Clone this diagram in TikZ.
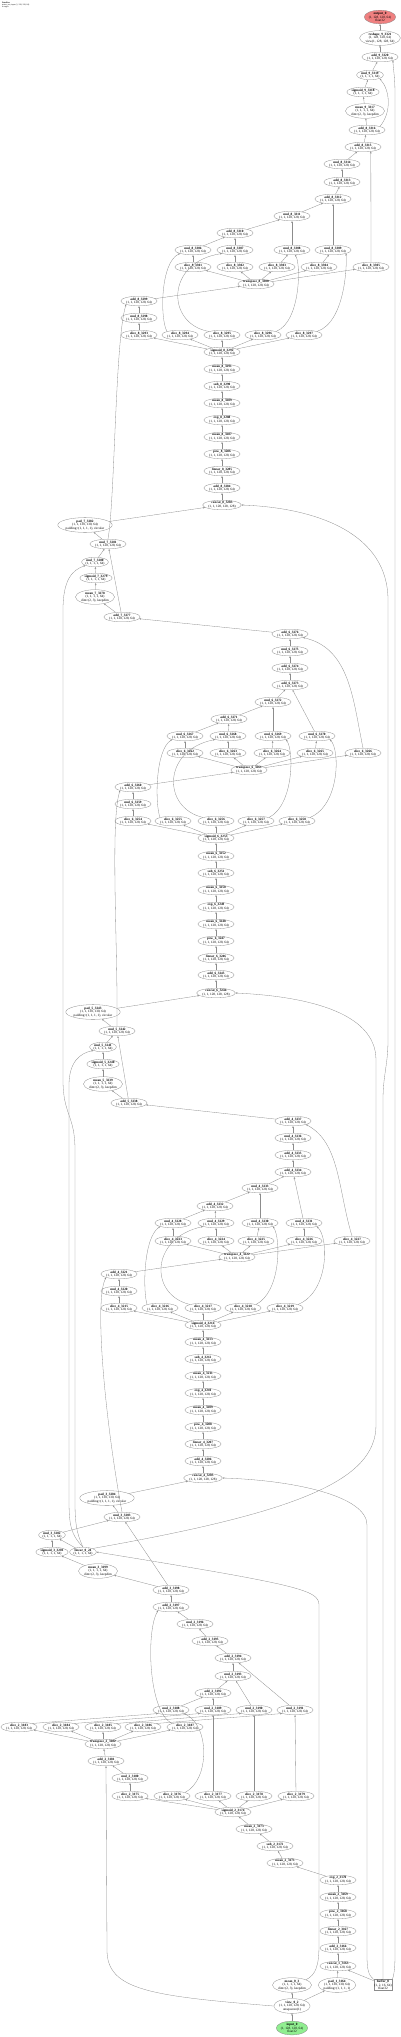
\documentclass[tikz,border=0pt]{standalone}
\usepackage{fontspec}
\setmainfont{Liberation Serif}
\usetikzlibrary{shapes.geometric,arrows.meta}
\definecolor{outfill}{RGB}{240,128,128}
\definecolor{infill}{RGB}{144,238,144}
\tikzset{
  op/.style={ellipse,draw=black!45,line width=0.3pt,inner xsep=0pt,inner ysep=0.1pt,
    align=center,font=\fontsize{3.35}{3.6}\selectfont},
  outop/.style={op,fill=outfill},
  inop/.style={op,fill=infill},
  bufbox/.style={rectangle,draw=black!45,line width=0.3pt,inner sep=0.6pt,
    align=center,font=\fontsize{3.35}{3.6}\selectfont},
  edge/.style={draw=black!45,line width=0.3pt,-{Stealth[length=2pt,width=1.6pt]}}
}
\begin{document}
\begin{tikzpicture}[x=1pt,y=-1pt]
\useasboundingbox (0,0) rectangle (400,2037);
\node[anchor=north west,align=left,inner sep=0pt,font=\fontsize{2}{2.2}\selectfont] (title) at (2,1.5) {\textbf{Dataflow}\\mixer\_net, input (1, 128, 128, 64)\\4 stages};

\node[outop] (a1) at (380,17) {\textbf{output\_0}\\(1, 128, 128, 64)\\float32};
\node[op] (a2) at (380,38) {\textbf{reshape\_9\_3321}\\(1, 128, 128, 64)\\view(1, 128, 128, 64)};
\node[op] (a3) at (380,57) {\textbf{add\_9\_3320}\\(1, 1, 128, 128, 64)};
\node[op] (a4) at (370,75) {\textbf{mul\_9\_3319}\\(1, 1, 1, 1, 64)};
\node[op] (a5) at (363,92) {\textbf{sigmoid\_9\_3318}\\(1, 1, 1, 1, 64)};
\node[op] (a6) at (365,111) {\textbf{mean\_9\_3317}\\(1, 1, 1, 1, 64)\\dim=(2, 3), keepdim};
\node[op] (a7) at (367,130) {\textbf{add\_8\_3316}\\(1, 1, 128, 128, 64)};
\node[op] (a8) at (363,147) {\textbf{add\_8\_3315}\\(1, 1, 128, 128, 64)};
\node[op] (a9) at (342,164) {\textbf{mul\_8\_3314}\\(1, 1, 128, 128, 64)};

\node[op] (b10) at (342,182) {\textbf{add\_8\_3313}\\(1, 1, 128, 128, 64)};
\node[op] (b11) at (333,199) {\textbf{add\_8\_3312}\\(1, 1, 128, 128, 64)};
\node[op] (b12) at (292,216) {\textbf{mul\_8\_3311}\\(1, 1, 128, 128, 64)};
\node[op] (b13) at (235,233) {\textbf{add\_8\_3310}\\(1, 1, 128, 128, 64)};
\node[op] (b14) at (193,250) {\textbf{mul\_8\_3306}\\(1, 1, 128, 128, 64)};
\node[op] (b15) at (235,250) {\textbf{mul\_8\_3307}\\(1, 1, 128, 128, 64)};
\node[op] (b16) at (292,250) {\textbf{mul\_8\_3308}\\(1, 1, 128, 128, 64)};
\node[op] (b17) at (333,250) {\textbf{mul\_8\_3309}\\(1, 1, 128, 128, 64)};
\node[op] (b18) at (193,267) {\textbf{slice\_8\_3301}\\(1, 1, 128, 128, 64)};
\node[op] (b19) at (235,267) {\textbf{slice\_8\_3302}\\(1, 1, 128, 128, 64)};
\node[op] (b20) at (277,267) {\textbf{slice\_8\_3303}\\(1, 1, 128, 128, 64)};
\node[op] (b21) at (319,267) {\textbf{slice\_8\_3304}\\(1, 1, 128, 128, 64)};
\node[op] (b22) at (371,267) {\textbf{slice\_8\_3305}\\(1, 1, 128, 128, 64)};
\node[op] (b23) at (256,284) {\textbf{transpose\_8\_3300}\\(1, 1, 128, 128, 64)};
\node[op] (b24) at (139,301) {\textbf{add\_8\_3299}\\(1, 1, 128, 128, 64)};
\node[op] (b25) at (139,318) {\textbf{mul\_8\_3298}\\(1, 1, 128, 128, 64)};
\node[op] (b26) at (139,335) {\textbf{slice\_8\_3293}\\(1, 1, 128, 128, 64)};
\node[op] (b27) at (180,335) {\textbf{slice\_8\_3294}\\(1, 1, 128, 128, 64)};
\node[op] (b28) at (222,335) {\textbf{slice\_8\_3295}\\(1, 1, 128, 128, 64)};
\node[op] (b29) at (263,335) {\textbf{slice\_8\_3296}\\(1, 1, 128, 128, 64)};
\node[op] (b30) at (304,335) {\textbf{slice\_8\_3297}\\(1, 1, 128, 128, 64)};
\node[op] (b31) at (222,352) {\textbf{sigmoid\_8\_3292}\\(1, 1, 128, 128, 64)};
\node[op] (b32) at (222,369) {\textbf{mean\_8\_3291}\\(1, 1, 128, 128, 64)};
\node[op] (b33) at (222,386) {\textbf{sub\_8\_3290}\\(1, 1, 128, 128, 64)};
\node[op] (b34) at (222,403) {\textbf{mean\_8\_3289}\\(1, 1, 128, 128, 64)};
\node[op] (b35) at (222,420) {\textbf{exp\_8\_3288}\\(1, 1, 128, 128, 64)};
\node[op] (b36) at (222,437) {\textbf{mean\_8\_3287}\\(1, 1, 128, 128, 64)};
\node[op] (b37) at (222,454) {\textbf{pow\_8\_3286}\\(1, 1, 128, 128, 64)};
\node[op] (b38) at (222,471) {\textbf{linear\_8\_3285}\\(1, 1, 128, 128, 64)};
\node[op] (b39) at (222,488) {\textbf{add\_8\_3284}\\(1, 1, 128, 128, 64)};
\node[op] (b40) at (222,505) {\textbf{concat\_8\_3283}\\(1, 1, 128, 128, 128)};
\node[op] (b41) at (85,525) {\textbf{pad\_7\_3282}\\(1, 1, 130, 130, 64)\\padding=(1, 1, 1, 1), circular};
\node[op] (b42) at (108,544) {\textbf{mul\_7\_3281}\\(1, 1, 128, 128, 64)};
\node[op] (b43) at (95,562) {\textbf{mul\_7\_3280}\\(1, 1, 1, 1, 64)};
\node[op] (b44) at (96,578) {\textbf{sigmoid\_7\_3279}\\(1, 1, 1, 1, 64)};
\node[op] (b45) at (95,597) {\textbf{mean\_7\_3278}\\(1, 1, 1, 1, 64)\\dim=(2, 3), keepdim};
\node[op] (b46) at (122,617) {\textbf{add\_7\_3277}\\(1, 1, 128, 128, 64)};

\node[op] (c1) at (290,634) {\textbf{add\_6\_3276}\\(1, 1, 128, 128, 64)};
\node[op] (c2) at (290,651) {\textbf{mul\_6\_3275}\\(1, 1, 128, 128, 64)};
\node[op] (c3) at (290,668) {\textbf{add\_6\_3274}\\(1, 1, 128, 128, 64)};
\node[op] (c4) at (290,685) {\textbf{add\_6\_3273}\\(1, 1, 128, 128, 64)};
\node[op] (c5) at (273,702) {\textbf{mul\_6\_3272}\\(1, 1, 128, 128, 64)};
\node[op] (c6) at (229,719) {\textbf{add\_6\_3271}\\(1, 1, 128, 128, 64)};
\node[op] (c7) at (185,736) {\textbf{mul\_6\_3267}\\(1, 1, 128, 128, 64)};
\node[op] (c8) at (228,736) {\textbf{mul\_6\_3268}\\(1, 1, 128, 128, 64)};
\node[op] (c9) at (273,736) {\textbf{mul\_6\_3269}\\(1, 1, 128, 128, 64)};
\node[op] (c10) at (317,736) {\textbf{mul\_6\_3270}\\(1, 1, 128, 128, 64)};
\node[op] (c11) at (185,753) {\textbf{slice\_6\_3262}\\(1, 1, 128, 128, 64)};
\node[op] (c12) at (228,753) {\textbf{slice\_6\_3263}\\(1, 1, 128, 128, 64)};
\node[op] (c13) at (272,753) {\textbf{slice\_6\_3264}\\(1, 1, 128, 128, 64)};
\node[op] (c14) at (315,753) {\textbf{slice\_6\_3265}\\(1, 1, 128, 128, 64)};
\node[op] (c15) at (363,753) {\textbf{slice\_6\_3266}\\(1, 1, 128, 128, 64)};
\node[op] (c16) at (249,770) {\textbf{transpose\_6\_3261}\\(1, 1, 128, 128, 64)};
\node[op] (c17) at (133,787) {\textbf{add\_6\_3260}\\(1, 1, 128, 128, 64)};
\node[op] (c18) at (133,804) {\textbf{mul\_6\_3259}\\(1, 1, 128, 128, 64)};
\node[op] (c19) at (133,821) {\textbf{slice\_6\_3254}\\(1, 1, 128, 128, 64)};
\node[op] (c20) at (173,821) {\textbf{slice\_6\_3255}\\(1, 1, 128, 128, 64)};
\node[op] (c21) at (216,821) {\textbf{slice\_6\_3256}\\(1, 1, 128, 128, 64)};
\node[op] (c22) at (256,821) {\textbf{slice\_6\_3257}\\(1, 1, 128, 128, 64)};
\node[op] (c23) at (297,821) {\textbf{slice\_6\_3258}\\(1, 1, 128, 128, 64)};
\node[op] (c24) at (216,838) {\textbf{sigmoid\_6\_3253}\\(1, 1, 128, 128, 64)};
\node[op] (c25) at (216,856) {\textbf{mean\_6\_3252}\\(1, 1, 128, 128, 64)};
\node[op] (c26) at (216,873) {\textbf{sub\_6\_3251}\\(1, 1, 128, 128, 64)};
\node[op] (c27) at (216,890) {\textbf{mean\_6\_3250}\\(1, 1, 128, 128, 64)};
\node[op] (c28) at (216,907) {\textbf{exp\_6\_3249}\\(1, 1, 128, 128, 64)};
\node[op] (c29) at (216,924) {\textbf{mean\_6\_3248}\\(1, 1, 128, 128, 64)};
\node[op] (c30) at (216,941) {\textbf{pow\_6\_3247}\\(1, 1, 128, 128, 64)};
\node[op] (c31) at (216,958) {\textbf{linear\_6\_3246}\\(1, 1, 128, 128, 64)};
\node[op] (c32) at (216,975) {\textbf{add\_6\_3245}\\(1, 1, 128, 128, 64)};
\node[op] (c33) at (216,993) {\textbf{concat\_6\_3244}\\(1, 1, 128, 128, 128)};
\node[op] (c34) at (93,1012) {\textbf{pad\_5\_3243}\\(1, 1, 130, 130, 64)\\padding=(1, 1, 1, 1), circular};
\node[op] (c35) at (117,1031) {\textbf{mul\_5\_3242}\\(1, 1, 128, 128, 64)};
\node[op] (c36) at (103,1047) {\textbf{mul\_5\_3241}\\(1, 1, 1, 1, 64)};
\node[op] (c37) at (103,1064) {\textbf{sigmoid\_5\_3240}\\(1, 1, 1, 1, 64)};
\node[op] (c38) at (103,1084) {\textbf{mean\_5\_3239}\\(1, 1, 1, 1, 64)\\dim=(2, 3), keepdim};
\node[op] (c39) at (129,1103) {\textbf{add\_5\_3238}\\(1, 1, 128, 128, 64)};

\node[op] (d1) at (293,1121) {\textbf{add\_4\_3237}\\(1, 1, 128, 128, 64)};
\node[op] (d2) at (293,1138) {\textbf{mul\_4\_3236}\\(1, 1, 128, 128, 64)};
\node[op] (d3) at (293,1155) {\textbf{add\_4\_3235}\\(1, 1, 128, 128, 64)};
\node[op] (d4) at (293,1172) {\textbf{add\_4\_3234}\\(1, 1, 128, 128, 64)};
\node[op] (d5) at (260,1188) {\textbf{mul\_4\_3233}\\(1, 1, 128, 128, 64)};
\node[op] (d6) at (215,1206) {\textbf{add\_4\_3232}\\(1, 1, 128, 128, 64)};
\node[op] (d7) at (173,1223) {\textbf{mul\_4\_3228}\\(1, 1, 128, 128, 64)};
\node[op] (d8) at (216,1223) {\textbf{mul\_4\_3229}\\(1, 1, 128, 128, 64)};
\node[op] (d9) at (260,1223) {\textbf{mul\_4\_3230}\\(1, 1, 128, 128, 64)};
\node[op] (d10) at (304,1223) {\textbf{mul\_4\_3231}\\(1, 1, 128, 128, 64)};
\node[op] (d11) at (173,1241) {\textbf{slice\_4\_3223}\\(1, 1, 128, 128, 64)};
\node[op] (d12) at (216,1241) {\textbf{slice\_4\_3224}\\(1, 1, 128, 128, 64)};
\node[op] (d13) at (256,1241) {\textbf{slice\_4\_3225}\\(1, 1, 128, 128, 64)};
\node[op] (d14) at (304,1241) {\textbf{slice\_4\_3226}\\(1, 1, 128, 128, 64)};
\node[op] (d15) at (352,1241) {\textbf{slice\_4\_3227}\\(1, 1, 128, 128, 64)};
\node[op] (d16) at (237,1257) {\textbf{transpose\_4\_3222}\\(1, 1, 128, 128, 64)};
\node[op] (d17) at (119,1274) {\textbf{add\_4\_3221}\\(1, 1, 128, 128, 64)};
\node[op] (d18) at (119,1291) {\textbf{mul\_4\_3220}\\(1, 1, 128, 128, 64)};
\node[op] (d19) at (119,1308) {\textbf{slice\_4\_3215}\\(1, 1, 128, 128, 64)};
\node[op] (d20) at (160,1308) {\textbf{slice\_4\_3216}\\(1, 1, 128, 128, 64)};
\node[op] (d21) at (203,1308) {\textbf{slice\_4\_3217}\\(1, 1, 128, 128, 64)};
\node[op] (d22) at (243,1308) {\textbf{slice\_4\_3218}\\(1, 1, 128, 128, 64)};
\node[op] (d23) at (285,1308) {\textbf{slice\_4\_3219}\\(1, 1, 128, 128, 64)};
\node[op] (d24) at (203,1325) {\textbf{sigmoid\_4\_3214}\\(1, 1, 128, 128, 64)};
\node[op] (d25) at (203,1342) {\textbf{mean\_4\_3213}\\(1, 1, 128, 128, 64)};
\node[op] (d26) at (203,1359) {\textbf{sub\_4\_3212}\\(1, 1, 128, 128, 64)};
\node[op] (d27) at (203,1376) {\textbf{mean\_4\_3211}\\(1, 1, 128, 128, 64)};
\node[op] (d28) at (203,1393) {\textbf{exp\_4\_3210}\\(1, 1, 128, 128, 64)};
\node[op] (d29) at (203,1410) {\textbf{mean\_4\_3209}\\(1, 1, 128, 128, 64)};
\node[op] (d30) at (203,1427) {\textbf{pow\_4\_3208}\\(1, 1, 128, 128, 64)};
\node[op] (d31) at (203,1444) {\textbf{linear\_4\_3207}\\(1, 1, 128, 128, 64)};
\node[op] (d32) at (203,1461) {\textbf{add\_4\_3206}\\(1, 1, 128, 128, 64)};
\node[op] (d33) at (203,1478) {\textbf{concat\_4\_3205}\\(1, 1, 128, 128, 128)};
\node[op] (d34) at (107,1498) {\textbf{pad\_3\_3204}\\(1, 1, 130, 130, 64)\\padding=(1, 1, 1, 1), circular};
\node[op] (d35) at (122,1517) {\textbf{mul\_3\_3203}\\(1, 1, 128, 128, 64)};
\node[op] (d36) at (52,1535) {\textbf{mul\_3\_3202}\\(1, 1, 1, 1, 64)};
\node[op] (d37) at (52,1552) {\textbf{sigmoid\_3\_3201}\\(1, 1, 1, 1, 64)};
\node[op] (d38) at (83,1552) {\textbf{linear\_0\_24}\\(1, 1, 1, 1, 64)};
\node[op] (d39) at (98,1571) {\textbf{mean\_3\_3199}\\(1, 1, 1, 1, 64)\\dim=(2, 3), keepdim};
\node[op] (d40) at (171,1590) {\textbf{add\_3\_3198}\\(1, 1, 128, 128, 64)};

\node[op] (e1) at (171,1607) {\textbf{add\_2\_3197}\\(1, 1, 128, 128, 64)};
\node[op] (e2) at (195,1624) {\textbf{mul\_2\_3196}\\(1, 1, 128, 128, 64)};
\node[op] (e3) at (210,1641) {\textbf{add\_2\_3195}\\(1, 1, 128, 128, 64)};
\node[op] (e4) at (233,1658) {\textbf{add\_2\_3194}\\(1, 1, 128, 128, 64)};
\node[op] (e5) at (233,1676) {\textbf{mul\_2\_3193}\\(1, 1, 128, 128, 64)};
\node[op] (e6) at (213,1693) {\textbf{add\_2\_3192}\\(1, 1, 128, 128, 64)};
\node[op] (e7) at (171,1710) {\textbf{mul\_2\_3188}\\(1, 1, 128, 128, 64)};
\node[op] (e8) at (213,1710) {\textbf{mul\_2\_3189}\\(1, 1, 128, 128, 64)};
\node[op] (e9) at (254,1710) {\textbf{mul\_2\_3190}\\(1, 1, 128, 128, 64)};
\node[op] (e10) at (295,1710) {\textbf{mul\_2\_3191}\\(1, 1, 128, 128, 64)};
\node[op] (e11) at (19,1727) {\textbf{slice\_2\_3183}\\(1, 1, 128, 128, 64)};
\node[op] (e12) at (61,1727) {\textbf{slice\_2\_3184}\\(1, 1, 128, 128, 64)};
\node[op] (e13) at (103,1727) {\textbf{slice\_2\_3185}\\(1, 1, 128, 128, 64)};
\node[op] (e14) at (143,1727) {\textbf{slice\_2\_3186}\\(1, 1, 128, 128, 64)};
\node[op] (e15) at (185,1727) {\textbf{slice\_2\_3187}\\(1, 1, 128, 128, 64)};
\node[op] (e16) at (103,1744) {\textbf{transpose\_2\_3182}\\(1, 1, 128, 128, 64)};
\node[op] (e17) at (106,1761) {\textbf{add\_2\_3181}\\(1, 1, 128, 128, 64)};
\node[op] (e18) at (130,1778) {\textbf{mul\_2\_3180}\\(1, 1, 128, 128, 64)};
\node[op] (e19) at (130,1796) {\textbf{slice\_2\_3175}\\(1, 1, 128, 128, 64)};
\node[op] (e20) at (172,1796) {\textbf{slice\_2\_3176}\\(1, 1, 128, 128, 64)};
\node[op] (e21) at (213,1796) {\textbf{slice\_2\_3177}\\(1, 1, 128, 128, 64)};
\node[op] (e22) at (254,1796) {\textbf{slice\_2\_3178}\\(1, 1, 128, 128, 64)};
\node[op] (e23) at (296,1796) {\textbf{slice\_2\_3179}\\(1, 1, 128, 128, 64)};
\node[op] (e24) at (233,1812) {\textbf{sigmoid\_2\_3174}\\(1, 1, 128, 128, 64)};
\node[op] (e25) at (254,1829) {\textbf{mean\_2\_3173}\\(1, 1, 128, 128, 64)};
\node[op] (e26) at (275,1846) {\textbf{sub\_2\_3172}\\(1, 1, 128, 128, 64)};
\node[op] (e27) at (285,1863) {\textbf{mean\_2\_3171}\\(1, 1, 128, 128, 64)};
\node[op] (e28) at (338,1880) {\textbf{exp\_2\_3170}\\(1, 1, 128, 128, 64)};
\node[op] (e29) at (338,1897) {\textbf{mean\_2\_3169}\\(1, 1, 128, 128, 64)};
\node[op] (e30) at (338,1914) {\textbf{pow\_2\_3168}\\(1, 1, 128, 128, 64)};
\node[op] (e31) at (338,1931) {\textbf{linear\_2\_3167}\\(1, 1, 128, 128, 64)};
\node[op] (e32) at (338,1948) {\textbf{add\_2\_3166}\\(1, 1, 128, 128, 64)};
\node[op] (e33) at (338,1966) {\textbf{concat\_1\_3165}\\(1, 1, 128, 128, 64)};
\node[op] (e34) at (292,1985) {\textbf{mean\_0\_3}\\(1, 1, 1, 1, 64)\\dim=(2, 3), keepdim};
\node[op] (e35) at (337,1985) {\textbf{pad\_1\_3164}\\(1, 1, 130, 130, 64)\\padding=(1, 1, 1, 1)};
\node[bufbox] (e36) at (383,1985) {\textbf{buffer\_0}\\(1, 2, 16, 64)\\float32};
\node[op] (e37) at (292,2006) {\textbf{view\_0\_2}\\(1, 1, 128, 128, 64)\\unsqueeze(1)};
\node[inop] (e38) at (292,2028) {\textbf{input\_0}\\(1, 128, 128, 64)\\float32};

\draw[edge] (a2) -- (a1);
\draw[edge] (a3) -- (a2);
\draw[edge] (a4) -- (a3);
\draw[edge] (a5) -- (a4);
\draw[edge] (a6) -- (a5);
\draw[edge] (a7) -- (a6);
\draw[edge] (a7.north east) .. controls (392,112) and (390,90) .. (a4.south east);
\draw[edge] (a8) -- (a7);
\draw[edge] (a9) -- (a8);
\draw[edge] (b10) -- (a9);
\draw[edge] (b22.north) -- (a8.-30);

\draw[edge] (b11) -- (b10);
\draw[edge] (b12) -- (b11);
\draw[edge] (b13) -- (b12);
\draw[edge] (b14) -- (b13);
\draw[edge] (b15) -- (b13);
\draw[edge] (b16) -- (b12);
\draw[edge] (b17) -- (b11);
\draw[edge] (b18) -- (b14);
\draw[edge] (b19) -- (b15);
\draw[edge] (b20) -- (b16);
\draw[edge] (b21) -- (b17);
\draw[edge] (b23) -- (b18);
\draw[edge] (b23) -- (b19);
\draw[edge] (b23) -- (b20);
\draw[edge] (b23) -- (b21);
\draw[edge] (b23) -- (b22);
\draw[edge] (b24) -- (b23);
\draw[edge] (b25) -- (b24);
\draw[edge] (b26) -- (b25);
\draw[edge] (b27.north west) .. controls (160,320) and (160,262) .. (b14.south west);
\draw[edge] (b28.north west) .. controls (166,324) and (165,262) .. (b15.south west);
\draw[edge] (b29.north east) .. controls (301,322) and (301,262) .. (b16.-60);
\draw[edge] (b30.north east) .. controls (346,322) and (347,262) .. (b17.south east);
\draw[edge] (b31) -- (b26);
\draw[edge] (b31) -- (b27);
\draw[edge] (b31) -- (b28);
\draw[edge] (b31) -- (b29);
\draw[edge] (b31) -- (b30);
\draw[edge] (b32) -- (b31);
\draw[edge] (b33) -- (b32);
\draw[edge] (b34) -- (b33);
\draw[edge] (b35) -- (b34);
\draw[edge] (b36) -- (b35);
\draw[edge] (b37) -- (b36);
\draw[edge] (b38) -- (b37);
\draw[edge] (b39) -- (b38);
\draw[edge] (b40) -- (b39);
\draw[edge] (b41) -- (b40);
\draw[edge] (b42) -- (b41);
\draw[edge] (b42.north) .. controls (115,500) and (115,340) .. (b24.south west);
\draw[edge] (b43) -- (b42);
\draw[edge] (b44) -- (b43);
\draw[edge] (b45) -- (b44);
\draw[edge] (b46) -- (b45);
\draw[edge] (b46) -- (b42);
\draw[edge] (c1) -- (b46);

\draw[edge] (c2) -- (c1);
\draw[edge] (c3) -- (c2);
\draw[edge] (c4) -- (c3);
\draw[edge] (c5) -- (c4);
\draw[edge] (c6) -- (c5);
\draw[edge] (c7) -- (c6);
\draw[edge] (c8) -- (c6);
\draw[edge] (c9) -- (c5);
\draw[edge] (c10) -- (c4);
\draw[edge] (c11) -- (c7);
\draw[edge] (c12) -- (c8);
\draw[edge] (c13) -- (c9);
\draw[edge] (c14) -- (c10);
\draw[edge] (c15.north) .. controls (353,700) and (350,648) .. (c1.south east);
\draw[edge] (c16) -- (c11);
\draw[edge] (c16) -- (c12);
\draw[edge] (c16) -- (c13);
\draw[edge] (c16) -- (c14);
\draw[edge] (c16) -- (c15);
\draw[edge] (c17) -- (c16);
\draw[edge] (c18) -- (c17);
\draw[edge] (c19) -- (c18);
\draw[edge] (c20.north west) .. controls (155,805) and (155,750) .. (c7.south west);
\draw[edge] (c21.north west) .. controls (162,808) and (162,750) .. (c8.south west);
\draw[edge] (c22.north east) .. controls (294,805) and (294,750) .. (c9.south east);
\draw[edge] (c23.north east) .. controls (340,805) and (340,750) .. (c10.south east);
\draw[edge] (c24) -- (c19);
\draw[edge] (c24) -- (c20);
\draw[edge] (c24) -- (c21);
\draw[edge] (c24) -- (c22);
\draw[edge] (c24) -- (c23);
\draw[edge] (c25) -- (c24);
\draw[edge] (c26) -- (c25);
\draw[edge] (c27) -- (c26);
\draw[edge] (c28) -- (c27);
\draw[edge] (c29) -- (c28);
\draw[edge] (c30) -- (c29);
\draw[edge] (c31) -- (c30);
\draw[edge] (c32) -- (c31);
\draw[edge] (c33) -- (c32);
\draw[edge] (c34) -- (c33);
\draw[edge] (c35) -- (c34);
\draw[edge] (c35.north) .. controls (118,950) and (110,820) .. (c17.south west);
\draw[edge] (c36) -- (c35);
\draw[edge] (c37) -- (c36);
\draw[edge] (c38) -- (c37);
\draw[edge] (c39) -- (c38);
\draw[edge] (c39) -- (c35);
\draw[edge] (d1) -- (c39);

\draw[edge] (d2) -- (d1);
\draw[edge] (d3) -- (d2);
\draw[edge] (d4) -- (d3);
\draw[edge] (d5) -- (d4);
\draw[edge] (d6) -- (d5);
\draw[edge] (d7) -- (d6);
\draw[edge] (d8) -- (d6);
\draw[edge] (d9) -- (d5);
\draw[edge] (d10) -- (d4);
\draw[edge] (d11) -- (d7);
\draw[edge] (d12) -- (d8);
\draw[edge] (d13) -- (d9);
\draw[edge] (d14) -- (d10);
\draw[edge] (d15.north) .. controls (338,1190) and (340,1142) .. (d1.south east);
\draw[edge] (d16) -- (d11);
\draw[edge] (d16) -- (d12);
\draw[edge] (d16) -- (d13);
\draw[edge] (d16) -- (d14);
\draw[edge] (d16) -- (d15);
\draw[edge] (d17) -- (d16);
\draw[edge] (d18) -- (d17);
\draw[edge] (d19) -- (d18);
\draw[edge] (d20.north west) .. controls (143,1292) and (143,1238) .. (d7.south west);
\draw[edge] (d21.north west) .. controls (149,1295) and (150,1238) .. (d8.south west);
\draw[edge] (d22.north east) .. controls (281,1292) and (281,1238) .. (d9.south east);
\draw[edge] (d23.north east) .. controls (329,1292) and (329,1238) .. (d10.south east);
\draw[edge] (d24) -- (d19);
\draw[edge] (d24) -- (d20);
\draw[edge] (d24) -- (d21);
\draw[edge] (d24) -- (d22);
\draw[edge] (d24) -- (d23);
\draw[edge] (d25) -- (d24);
\draw[edge] (d26) -- (d25);
\draw[edge] (d27) -- (d26);
\draw[edge] (d28) -- (d27);
\draw[edge] (d29) -- (d28);
\draw[edge] (d30) -- (d29);
\draw[edge] (d31) -- (d30);
\draw[edge] (d32) -- (d31);
\draw[edge] (d33) -- (d32);
\draw[edge] (d34) -- (d33);
\draw[edge] (d35) -- (d34);
\draw[edge] (d35.north) .. controls (105,1420) and (94,1300) .. (d17.south west);
\draw[edge] (d36) -- (d35);
\draw[edge] (d37) -- (d36);
\draw[edge] (d38) -- (d36);
\draw[edge] (d39) -- (d37);
\draw[edge] (d40) -- (d39);
\draw[edge] (d40) -- (d35);
\draw[edge] (e1) -- (d40);
\draw[edge] (d38.north) .. controls (76,1532) and (75,1522) .. (75,1500) -- (75,1150) .. controls (75,1115) and (63,1115) .. (63,1080) -- (63,610) .. controls (63,580) and (72,570) .. (b43.south west);
\draw[edge] (d38.north) .. controls (71,1535) and (69,1525) .. (69,1500) -- (69,1085) .. controls (69,1062) and (80,1053) .. (c36.south west);
\draw[edge] (d38.north east) .. controls (300,1512) and (376,1480) .. (376,1425) -- (376,1060) .. controls (376,1010) and (300,996) .. (c33.east);

\draw[edge] (e2) -- (e1);
\draw[edge] (e3) -- (e2);
\draw[edge] (e4) -- (e3);
\draw[edge] (e5) -- (e4);
\draw[edge] (e6) -- (e5);
\draw[edge] (e7) -- (e6);
\draw[edge] (e8) -- (e6);
\draw[edge] (e9) -- (e5);
\draw[edge] (e10) -- (e4);
\draw[edge] (e11.north east) -- (e7.south west);
\draw[edge] (e12.north east) -- (e8.south west);
\draw[edge] (e13.north east) -- (e9.south west);
\draw[edge] (e14.north east) -- (e10.south west);
\draw[edge] (e15.north west) .. controls (148,1712) and (146,1630) .. (e1.south west);
\draw[edge] (e16) -- (e11);
\draw[edge] (e16) -- (e12);
\draw[edge] (e16) -- (e13);
\draw[edge] (e16) -- (e14);
\draw[edge] (e16) -- (e15);
\draw[edge] (e17) -- (e16);
\draw[edge] (e18) -- (e17);
\draw[edge] (e19) -- (e18);
\draw[edge] (e20.north east) .. controls (210,1780) and (210,1725) .. (e7.south east);
\draw[edge] (e21) -- (e8);
\draw[edge] (e22) -- (e9);
\draw[edge] (e23) -- (e10);
\draw[edge] (e24) -- (e19);
\draw[edge] (e24) -- (e20);
\draw[edge] (e24) -- (e21);
\draw[edge] (e24) -- (e22);
\draw[edge] (e24) -- (e23);
\draw[edge] (e25) -- (e24);
\draw[edge] (e26) -- (e25);
\draw[edge] (e27) -- (e26);
\draw[edge] (e28) -- (e27);
\draw[edge] (e29) -- (e28);
\draw[edge] (e30) -- (e29);
\draw[edge] (e31) -- (e30);
\draw[edge] (e32) -- (e31);
\draw[edge] (e33) -- (e32);
\draw[edge] (e35) -- (e33);
\draw[edge] (e36.155) -- (e33);
\draw[edge] (e37) -- (e35);
\draw[edge] (e37) -- (e34);
\draw[edge] (e38) -- (e37);
\draw[edge] (e37.west) .. controls (150,1996) and (107,1990) .. (107,1950) -- (e17.south);
\draw[edge] (e34.north east) .. controls (316,1975) and (319,1965) .. (319,1945) -- (319,1605) .. controls (319,1590) and (300,1585) .. (d38.east);
\draw[edge] (e36.north west) .. controls (368,1975) and (367,1968) .. (367,1955) -- (367,1525) .. controls (367,1495) and (290,1480) .. (d33.east);
\draw[edge] (e36.north) -- (383,1100) .. controls (383,1075) and (388,1065) .. (388,1040) -- (388,600) .. controls (388,535) and (320,508) .. (b40.east);
\draw[edge] (e36.north east) .. controls (394,1975) and (395,1968) .. (395,1955) -- (395,95) .. controls (395,75) and (393,68) .. (a3.south east);
\end{tikzpicture}
\end{document}
